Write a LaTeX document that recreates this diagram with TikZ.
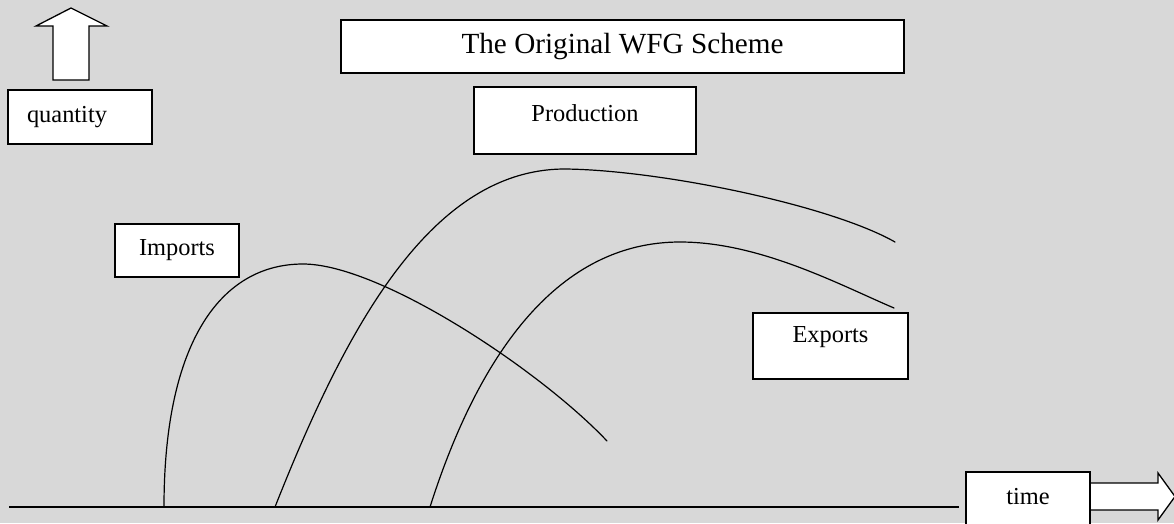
\documentclass[tikz,border=0pt]{standalone}
\usepackage{fontspec}
\setmainfont{Liberation Serif}
\usetikzlibrary{calc}
\definecolor{bggray}{RGB}{216,216,216}

\begin{document}
\begin{tikzpicture}[x=1pt, y=-1pt,
    box/.style={draw, fill=white, line width=1.3pt, inner sep=0pt},
    blockarrow/.style={draw, fill=white, line width=1.3pt},
    curve/.style={line width=1.2pt, line cap=round},
    every label/.style={font=\fontsize{24.4}{28}\selectfont}]
    \useasboundingbox (0,0) rectangle (1174,523);
    \clip (0,0) rectangle (1174,523);
    \fill[bggray] (0,0) rectangle (1174,523);

    % Title
    \node[box, minimum width=563pt, minimum height=53pt,
          font=\fontsize{29.2}{34}\selectfont] (title) at (622.5,46.5) {The Original WFG Scheme};

    % Quantity arrow
    \path[blockarrow] (53,80) -- (53,26) -- (36,26) -- (71,8) -- (107,26) -- (89,26) -- (89,80) -- cycle;
    \node[box, minimum width=144pt, minimum height=54pt,
          label={[xshift=-13pt]center:quantity}] (quantity) at (80,117) {};

    % Curve labels
    \node[box, minimum width=222pt, minimum height=67pt,
          label={[yshift=7.5pt]center:Production}] (production) at (585,120.5) {};
    \node[box, minimum width=124pt, minimum height=53pt,
          label={center:Imports}] (imports) at (177,250.5) {};
    \node[box, minimum width=155pt, minimum height=66pt,
          label={[yshift=9pt]center:Exports}] (exports) at (830.5,346) {};

    % Time arrow and axis
    \path[blockarrow] (1080,483) -- (1158,483) -- (1158,473) -- (1175,496.5) -- (1158,520) -- (1158,510) -- (1080,510) -- cycle;
    \node[box, minimum width=124pt, minimum height=70pt,
          label={[yshift=10pt]center:time}] (time) at (1028,507) {};
    \coordinate (origin) at (9,507);
    \draw[line width=1.3pt] (origin) -- ([xshift=-6pt]time.west);

    % Imports curve
    \draw[curve] (164,507) .. controls (164,340) and (222,264) .. (303,264)
        .. controls (380,264) and (540,370) .. (607,441);

    % Production curve
    \draw[curve] (275,507) .. controls (345,330) and (430,169) .. (565,169)
        .. controls (660,170) and (830,205) .. (895,242);

    % Exports curve
    \draw[curve] (430,507) .. controls (480,350) and (560,242) .. (680,242)
        .. controls (760,242) and (840,285) .. (894,308);
\end{tikzpicture}
\end{document}
